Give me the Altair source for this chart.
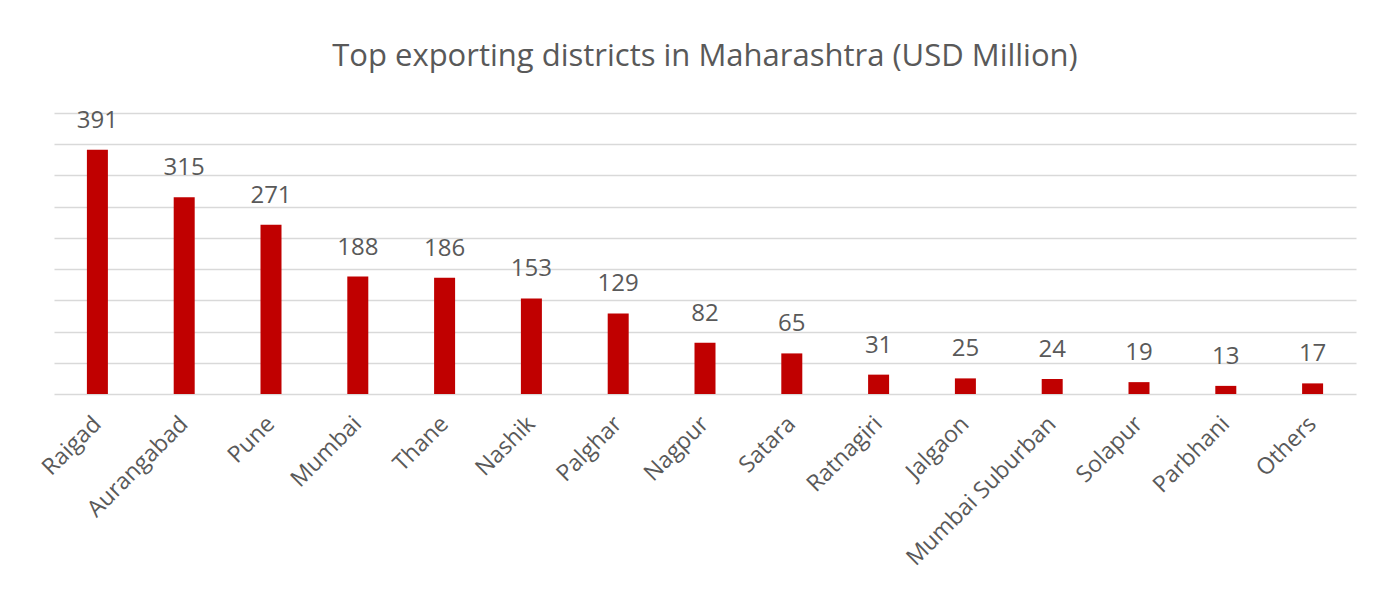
import altair as alt
import pandas as pd

districts = ["Raigad", "Aurangabad", "Pune", "Mumbai", "Thane", "Nashik", "Palghar",
             "Nagpur", "Satara", "Ratnagiri", "Jalgaon", "Mumbai Suburban", "Solapur",
             "Parbhani", "Others"]
exports = [391, 315, 271, 188, 186, 153, 129, 82, 65, 31, 25, 24, 19, 13, 17]
grid_ticks = [0, 50, 100, 150, 200, 250, 300, 350, 400, 450]

df = pd.DataFrame({"district": districts, "value": exports})

FONT = "Open Sans"
GREY = "#595959"

x = alt.X("district:N", sort=districts, title=None,
          scale=alt.Scale(paddingInner=0, paddingOuter=0),
          axis=alt.Axis(labelAngle=-45, labelAlign="right", labelBaseline="middle",
                        labelPadding=26, labelFontSize=23, labelColor=GREY, labelFont=FONT,
                        labelLimit=400, ticks=False, domain=False, grid=False,
                        labelOverlap=False))
y = alt.Y("value:Q", title=None,
          scale=alt.Scale(domain=[0, 450], nice=False),
          axis=alt.Axis(values=grid_ticks, labels=False, ticks=False, domain=False,
                        grid=True, gridColor="#d9d9d9", gridWidth=1.5))

base = alt.Chart(df).encode(x=x, y=y)
bars = base.mark_bar(color="#c00000", size=21)
labels = base.mark_text(baseline="alphabetic", dy=-22, fontSize=24,
                        color=GREY, font=FONT).encode(text="value:Q")

chart = alt.layer(bars, labels).properties(
    width=1302, height=281,
    background="white",
    title=alt.TitleParams("Top exporting districts in Maharashtra (USD Million)",
                          fontSize=31, font=FONT, color=GREY, fontWeight="normal",
                          anchor="middle", baseline="alphabetic", offset=12),
    padding={"left": 30, "top": 32, "right": 10, "bottom": 10},
).configure_view(strokeWidth=0, stroke="transparent")

chart.save("out.html", embed_options={"renderer": "svg", "actions": False})
